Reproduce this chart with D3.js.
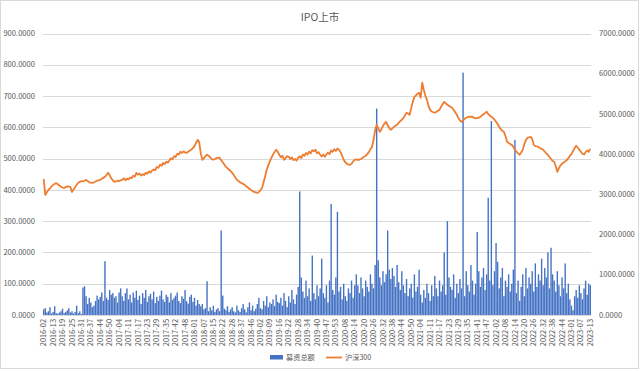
<!DOCTYPE html>
<html>
<head>
<meta charset="utf-8">
<script src="https://cdn.jsdelivr.net/npm/d3@7"></script>
<style>
  body { margin: 0; background: #fff; }
  svg text { font-family: "Noto Sans CJK SC", "Liberation Sans", sans-serif; fill: #595959; }
</style>
</head>
<body>
<svg id="chart" width="640" height="371"></svg>
<script>
// Week labels shown under the axis (every 6th category)
var tickLabels = ["2016-02","2016-13","2016-19","2016-25","2016-31","2016-37","2016-44","2016-50",
  "2017-04","2017-11","2017-17","2017-23","2017-29","2017-35","2017-42","2017-48",
  "2018-01","2018-07","2018-15","2018-22","2018-28","2018-37","2018-46",
  "2019-02","2019-09","2019-16","2019-22","2019-28","2019-34","2019-40","2019-47","2019-53",
  "2020-08","2020-14","2020-20","2020-26","2020-32","2020-38","2020-44","2020-50",
  "2021-04","2021-11","2021-17","2021-23","2021-29","2021-35","2021-41","2021-47",
  "2022-02","2022-08","2022-14","2022-20","2022-26","2022-32","2022-38","2022-44",
  "2023-01","2023-07","2023-13"];

// 募资总额 (left axis)
var raised = [
  18, 22, 8, 12, 25, 5, 10, 28, 6, 4,
  8, 12, 20, 6, 10, 15, 22, 8, 12, 5,
  10, 30, 6, 12, 3, 88, 92, 60, 35, 55,
  40, 25, 30, 45, 62, 50, 58, 72, 45, 172,
  55, 48, 80, 65, 70, 55, 60, 40, 72, 85,
  60, 45, 70, 85, 50, 65, 40, 72, 55, 78,
  48, 62, 35, 70, 55, 80, 42, 60, 68, 50,
  75, 38, 58, 45, 62, 78, 50, 42, 65, 58,
  40, 70, 48, 55, 62, 72, 45, 38, 60, 52,
  80, 44, 36, 58, 65, 42, 55, 30, 48, 35,
  28, 35, 18, 22, 108, 12, 25, 15, 30, 10,
  18, 22, 12, 270, 62, 20, 15, 28, 10, 18,
  25, 12, 8, 30, 15, 10, 22, 35, 18, 8,
  25, 40, 15, 30, 12, 20, 35, 55, 22, 18,
  45, 30, 60, 25, 40, 35, 50, 28, 65, 42,
  38, 55, 30, 70, 45, 25, 60, 40, 80, 50,
  35, 65, 90, 395, 120, 75, 55, 110, 60, 85,
  45, 190, 70, 50, 95, 60, 85, 180, 70, 55,
  95, 40, 110, 355, 80, 65, 120, 330, 75, 90,
  50, 100, 60, 45, 85, 70, 110, 55, 95, 130,
  95, 70, 120, 85, 60, 110, 90, 75, 130, 100,
  85, 160, 660, 175, 120, 95, 140, 105, 130, 270,
  145, 115, 150, 125, 90, 160, 105, 80, 140, 95,
  70, 115, 60, 85, 100, 55, 130, 75, 90, 145,
  65, 40, 80, 55, 100, 70, 45, 95, 60, 125,
  85, 60, 110, 75, 95, 200, 65, 300, 120, 90,
  80, 130, 55, 100, 70, 115, 85, 775, 60, 140,
  95, 75, 160, 110, 65, 100, 265, 140, 90, 120,
  150, 80, 130, 375, 110, 620, 95, 140, 230, 170,
  85, 120, 150, 60, 110, 90, 130, 75, 100, 145,
  560, 70, 110, 45, 90, 130, 60, 150, 85, 120,
  100, 140, 75, 165, 90, 130, 110, 180, 95, 150,
  120, 200, 85, 215, 130, 110, 75, 140, 95, 60,
  120, 85, 165, 70, 100, 50, 30, 15, 60, 80,
  55, 95, 70, 50, 85, 110, 65, 100, 95
];

// 沪深300 (right axis)
var csi300 = [
  3380, 2985, 3050, 3110, 3150, 3200, 3230, 3260, 3280, 3250,
  3220, 3190, 3170, 3160, 3180, 3200, 3190, 3185, 3060, 3120,
  3180, 3240, 3290, 3310, 3330, 3320, 3340, 3360, 3330, 3300,
  3290, 3285, 3300, 3320, 3340, 3350, 3360, 3390, 3410, 3435,
  3480, 3535, 3480, 3400, 3350, 3310, 3320, 3340, 3330, 3350,
  3360, 3400, 3350, 3390, 3370, 3420, 3400, 3460, 3440, 3535,
  3490, 3520, 3470, 3500, 3480, 3540, 3510, 3570, 3540, 3590,
  3620, 3600, 3680, 3660, 3735, 3710, 3780, 3750, 3810, 3790,
  3840, 3900, 3870, 3950, 3930, 4010, 3990, 4060, 4030, 4070,
  4040, 4035, 4060, 4090, 4110, 4150, 4200, 4280, 4355, 4300,
  4020, 3860, 3900, 3950, 3985, 3960, 3920, 3880, 3860, 3880,
  3900, 3905, 3910, 3850, 3800, 3740, 3685, 3650, 3610, 3580,
  3535, 3480, 3420, 3360, 3330, 3300, 3280, 3260, 3235, 3200,
  3170, 3140, 3110, 3080, 3060, 3050, 3035, 3060, 3100, 3160,
  3300, 3450, 3610, 3720, 3820, 3910, 3990, 4050, 4110, 4060,
  3985, 3920, 3960, 3860, 3900, 3950, 3935, 3880, 3920, 3850,
  3880, 3840, 3910, 3950, 3900, 3990, 3960, 4030, 3990, 4060,
  4020, 4100, 4070, 4110, 4020, 4050, 3985, 3940, 3990, 3935,
  3990, 4040, 4000, 4090, 4060, 4120, 4080, 4140, 4110, 4050,
  3960, 3860, 3800, 3760, 3740, 3735, 3760, 3820, 3860, 3870,
  3860, 3860, 3880, 3910, 3935, 3960, 4000, 4050, 4120, 4180,
  4350, 4600, 4730, 4640, 4555, 4620, 4700, 4760, 4805, 4720,
  4650, 4605, 4640, 4680, 4710, 4730, 4780, 4820, 4855, 4900,
  4960, 5030, 5010, 4980, 5150, 5300, 5425, 5460, 5500, 5525,
  5400, 5775, 5600, 5450, 5350, 5200, 5100, 5060, 5040, 5030,
  5050, 5080, 5100, 5180, 5240, 5300, 5260, 5230, 5200, 5180,
  5155, 5100, 5040, 4980, 4900, 4840, 4805, 4840, 4880, 4905,
  4920, 4935, 4930, 4930, 4900, 4890, 4900, 4905, 4930, 4960,
  4990, 5020, 5055, 5000, 4960, 4930, 4900, 4860, 4805, 4750,
  4680, 4620, 4580, 4555, 4450, 4310, 4280, 4250, 4230, 4180,
  4110, 4060, 4020, 3985, 4040, 4110, 4250, 4350, 4405, 4420,
  4430, 4380, 4230, 4200, 4190, 4180, 4150, 4130, 4110, 4060,
  4020, 3985, 3930, 3880, 3830, 3810, 3700, 3560, 3650, 3720,
  3760, 3790, 3820, 3850, 3900, 3960, 4000, 4080, 4150, 4210,
  4160, 4110, 4060, 4010, 3990, 4050, 4090, 4060, 4130
];

var leftTicks = d3.range(0, 901, 100);
var rightTicks = d3.range(0, 7001, 1000);

var svg = d3.select("#chart");
var margin = { left: 43, right: 48, top: 33.5, bottom: 56 };
var W = 640, H = 371;

// chart area border
svg.append("rect")
    .attr("x", 0.5).attr("y", 0.5)
    .attr("width", 638).attr("height", 368)
    .style("fill", "#fff")
    .style("stroke", "#d9d9d9");

var x = d3.scaleBand()
    .domain(d3.range(raised.length))
    .range([margin.left, W - margin.right - 1])
    .paddingInner(0.12);

var yL = d3.scaleLinear().domain([0, 900]).range([H - margin.bottom, margin.top]);
var yR = d3.scaleLinear().domain([0, 7000]).range([H - margin.bottom, margin.top]);

// gridlines off the left axis
svg.append("g").selectAll("line").data(leftTicks).enter()
    .append("line")
    .attr("x1", margin.left).attr("x2", W - margin.right - 1)
    .attr("y1", function (d) { return Math.round(yL(d)) + 0.5; })
    .attr("y2", function (d) { return Math.round(yL(d)) + 0.5; })
    .style("stroke", "#d9d9d9")
    .style("stroke-width", 1);

// left axis labels
svg.append("g").selectAll("text").data(leftTicks).enter()
    .append("text")
    .attr("x", 35)
    .attr("y", function (d) { return yL(d); })
    .attr("dy", "0.35em")
    .attr("text-anchor", "end")
    .style("font-size", "7.6px")
    .text(function (d) { return d3.format(".4f")(d); });

// right axis labels
svg.append("g").selectAll("text").data(rightTicks).enter()
    .append("text")
    .attr("x", 599)
    .attr("y", function (d) { return yR(d); })
    .attr("dy", "0.35em")
    .attr("text-anchor", "start")
    .style("font-size", "7.6px")
    .text(function (d) { return d3.format(".4f")(d); });

// bars
svg.append("g").selectAll("rect").data(raised).enter()
    .append("rect")
    .attr("x", function (d, i) { return x(i); })
    .attr("y", function (d) { return yL(d); })
    .attr("width", x.bandwidth())
    .attr("height", function (d) { return yL(0) - yL(d); })
    .style("fill", "#4472c4");

// line
var line = d3.line()
    .x(function (d, i) { return x(i) + x.bandwidth() / 2; })
    .y(function (d) { return yR(d); });

svg.append("path")
    .datum(csi300)
    .attr("d", line)
    .style("fill", "none")
    .style("stroke", "#ed7d31")
    .style("stroke-width", 1.8)
    .style("stroke-linejoin", "round");

// x tick labels, every 6th category
var tickIdx = tickLabels.map(function (d, i) { return i * 6; });
svg.append("g").selectAll("text").data(tickIdx).enter()
    .append("text")
    .attr("transform", function (d) {
        return "translate(" + (x(d) + x.bandwidth() / 2 + 2.6) + "," + 319 + ") rotate(-90)";
    })
    .attr("text-anchor", "end")
    .style("font-size", "7.4px")
    .text(function (d, i) { return tickLabels[i]; });

// title
svg.append("text")
    .attr("x", 320).attr("y", 21)
    .attr("text-anchor", "middle")
    .style("font-size", "10.5px")
    .text("IPO上市");

// legend
var lg = svg.append("g");
lg.append("rect")
    .attr("x", 270).attr("y", 355)
    .attr("width", 13).attr("height", 4.5)
    .style("fill", "#4472c4");
lg.append("text")
    .attr("x", 286).attr("y", 357.5)
    .attr("dy", "0.35em")
    .style("font-size", "7.2px")
    .text("募资总额");
lg.append("line")
    .attr("x1", 326).attr("x2", 342)
    .attr("y1", 357.5).attr("y2", 357.5)
    .style("stroke", "#ed7d31")
    .style("stroke-width", 1.8);
lg.append("text")
    .attr("x", 345).attr("y", 357.5)
    .attr("dy", "0.35em")
    .style("font-size", "7.2px")
    .text("沪深300");
</script>
</body>
</html>
